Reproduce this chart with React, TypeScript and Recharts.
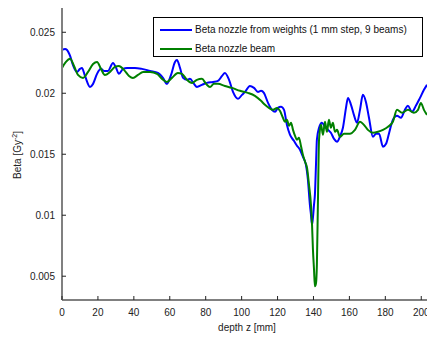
import React from "react";
import { Label, Legend, Line, LineChart, XAxis, YAxis } from "recharts";

const depthTicks = [0, 20, 40, 60, 80, 100, 120, 140, 160, 180, 200];
const betaTicks = [0.005, 0.01, 0.015, 0.02, 0.025];
const depthRange = [0, 203.2];
const betaRange = [0.00305, 0.02699];
const seriesNames = ["Beta nozzle from weights (1 mm step, 9 beams)", "Beta nozzle beam"];

// beta from weights (1 mm step, 9 beams)
const blueDepth = [
  0, 1.7, 2.8, 4.5, 6.1, 8.3, 10.0, 11.1, 12.8, 15.6,
  17.3, 19.5, 21.7, 23.4, 25.6, 28.4, 30.1, 31.7, 34.0, 36.2,
  40.6, 44.5, 49.0, 53.4, 56.2, 58.4, 60.7, 62.9, 64.0, 65.7,
  67.4, 69.6, 71.2, 73.5, 75.1, 77.9, 80.7, 84.1, 86.8, 89.1,
  90.7, 93.0, 95.2, 98.0, 100.2, 101.9, 104.6, 106.9, 109.1, 110.8,
  112.4, 114.7, 116.9, 118.6, 120.2, 121.9, 123.6, 125.2, 126.9, 129.1,
  130.8, 132.5, 134.1, 135.8, 136.9, 138.0, 138.6, 139.2, 139.7, 140.3,
  140.8, 141.4, 141.9, 143.1, 144.7, 146.4, 148.1, 149.7, 151.4, 153.1,
  154.7, 156.4, 158.1, 159.2, 160.9, 162.5, 164.2, 165.9, 167.5, 169.2,
  170.9, 173.1, 174.8, 176.5, 178.7, 180.4, 182.0, 184.2, 186.5, 188.7,
  190.9, 192.6, 194.8, 197.0, 199.3, 201.5, 203.2,
];
const blueBeta = [
  0.02355, 0.02363, 0.02355, 0.02306, 0.02232, 0.02175, 0.022, 0.02208, 0.02142, 0.02052,
  0.02077, 0.02159, 0.022, 0.02183, 0.02183, 0.02249, 0.02208, 0.02159, 0.022, 0.02208,
  0.02208, 0.022, 0.02183, 0.02167, 0.02126, 0.02077, 0.0215, 0.02257, 0.02273, 0.02208,
  0.02126, 0.0211, 0.02118, 0.02077, 0.02052, 0.02069, 0.02085, 0.02093, 0.02101, 0.02142,
  0.02167, 0.0211, 0.02011, 0.01954, 0.01987, 0.02011, 0.0206, 0.02044, 0.02011, 0.0202,
  0.02003, 0.01921, 0.01864, 0.01848, 0.0188, 0.01889, 0.01864, 0.01741, 0.0166, 0.0161,
  0.0157, 0.01537, 0.0148, 0.01414, 0.01292, 0.01087, 0.01005, 0.00923, 0.00981, 0.01087,
  0.01169, 0.01414, 0.01619, 0.01717, 0.01758, 0.01725, 0.017, 0.01676, 0.01627, 0.01602,
  0.01643, 0.01717, 0.0188, 0.01962, 0.01905, 0.01823, 0.01758, 0.01864, 0.01987, 0.01929,
  0.01799, 0.01643, 0.01668, 0.01668, 0.01562, 0.01586, 0.01668, 0.01782, 0.01815, 0.01799,
  0.01864, 0.01897, 0.01848, 0.01897, 0.01962, 0.02028, 0.02069,
];

// beta nozzle beam
const greenDepth = [
  0, 2.2, 4.5, 6.7, 8.9, 11.7, 14.5, 17.3, 19.5, 21.7,
  23.9, 26.7, 29.5, 31.7, 34.5, 37.3, 39.5, 42.3, 45.1, 49.0,
  52.9, 55.7, 58.4, 61.2, 64.5, 66.8, 69.6, 72.4, 75.1, 77.9,
  80.2, 82.4, 84.6, 86.8, 90.7, 94.6, 99.1, 103.5, 107.4, 110.8,
  113.0, 115.2, 117.5, 119.7, 121.3, 123.0, 124.1, 125.2, 126.4, 127.5,
  128.6, 129.7, 130.8, 131.9, 133.0, 134.1, 135.3, 136.4, 137.5, 138.6,
  139.2, 139.7, 140.3, 140.8, 141.4, 141.9, 142.5, 143.1, 144.2, 145.3,
  146.4, 147.5, 148.6, 149.7, 150.8, 152.0, 153.1, 154.7, 157.0, 160.3,
  163.1, 165.9, 168.1, 170.3, 173.1, 175.9, 178.7, 181.5, 184.2, 186.5,
  189.3, 192.6, 195.9, 198.2, 199.8, 201.5, 203.2,
];
const greenBeta = [
  0.02208, 0.02257, 0.02282, 0.02224, 0.0215, 0.02126, 0.02175, 0.0224, 0.02257, 0.022,
  0.0215, 0.02175, 0.02216, 0.02224, 0.02192, 0.02142, 0.02126, 0.0215, 0.02175, 0.02175,
  0.02159, 0.02118, 0.02093, 0.02126, 0.02167, 0.02159, 0.0211, 0.02085, 0.0211, 0.02118,
  0.02077, 0.02052, 0.02077, 0.02077, 0.0206, 0.02044, 0.0202, 0.02003, 0.01979, 0.01938,
  0.01905, 0.0188, 0.01864, 0.0188, 0.01856, 0.01799, 0.01766, 0.01782, 0.01733, 0.01758,
  0.017, 0.01652, 0.01619, 0.01635, 0.0157, 0.01496, 0.01439, 0.01389, 0.01251, 0.01087,
  0.00923, 0.0072, 0.00556, 0.00417, 0.00441, 0.00597, 0.01128, 0.01619, 0.01741, 0.0166,
  0.01766, 0.01684, 0.01782, 0.01717, 0.01758, 0.01684, 0.017, 0.01643, 0.01668, 0.01668,
  0.017, 0.01766, 0.01741, 0.017, 0.01676, 0.01684, 0.017, 0.01725, 0.01766, 0.01864,
  0.0184, 0.01864, 0.0184, 0.01864, 0.01921, 0.01864, 0.01823,
];

const blueData = blueDepth.map((z, i) => ({ z, beta: blueBeta[i] }));
const greenData = greenDepth.map((z, i) => ({ z, beta: greenBeta[i] }));

const font = "'Liberation Sans', Arial, sans-serif";
const textColor = "#222";

// matlab style ticks pointing into the plot
const BottomTick = (props: any) => {
  const { x, y, payload } = props;
  const axisY = y - 8;
  return (
    <g>
      <line x1={x} y1={axisY} x2={x} y2={axisY - 4} stroke="#222" />
      <text x={x} y={axisY + 16} textAnchor="middle" fontSize={10} fill={textColor} fontFamily={font}>
        {payload.value}
      </text>
    </g>
  );
};

const TopTick = (props: any) => {
  const { x, y } = props;
  return <line x1={x} y1={y} x2={x} y2={y + 4} stroke="#222" />;
};

const LeftTick = (props: any) => {
  const { x, y, payload } = props;
  const axisX = x + 7;
  return (
    <g>
      <line x1={axisX} y1={y} x2={axisX + 4} y2={y} stroke="#222" />
      <text x={x} y={y} dy="0.35em" textAnchor="end" fontSize={10} fill={textColor} fontFamily={font}>
        {String(payload.value)}
      </text>
    </g>
  );
};

const renderLegend = (props: any) => {
  // keep the plotting order (blue first) in the box
  const items = [...(props.payload || [])].sort(
    (a: any, b: any) => seriesNames.indexOf(a.value) - seriesNames.indexOf(b.value)
  );
  return (
    <div
      style={{
        boxSizing: "border-box",
        width: 270,
        height: 40,
        border: "1px solid #000",
        background: "#fff",
        paddingTop: 2,
        fontFamily: font,
        fontSize: 10,
        color: "#111",
      }}
    >
      {items.map((entry: any) => (
        <div key={entry.value} style={{ display: "flex", alignItems: "center", height: 19 }}>
          <svg width={38} height={4}>
            <line x1={6} y1={2} x2={38} y2={2} stroke={entry.color} strokeWidth={2} />
          </svg>
          <span style={{ marginLeft: 3, whiteSpace: "nowrap" }}>{entry.value}</span>
        </div>
      ))}
    </div>
  );
};

export default function App() {
  return (
    <div style={{ position: "absolute", left: 0, top: 0, background: "#fff" }}>
      <LineChart
        width={427}
        height={339}
        margin={{ top: 8, right: 0, left: 0, bottom: 0 }}
        style={{ fontFamily: font }}
      >
        <XAxis
          dataKey="z"
          type="number"
          domain={depthRange}
          ticks={depthTicks}
          interval={0}
          allowDataOverflow
          height={39}
          tickSize={0}
          tickMargin={8}
          tickLine={false}
          tick={<BottomTick />}
          axisLine={{ stroke: "#808080", strokeWidth: 2 }}
        >
          <Label
            content={() => (
              <text x={247} y={331} textAnchor="middle" fontSize={10} fill={textColor} fontFamily={font}>
                depth z [mm]
              </text>
            )}
          />
        </XAxis>
        <XAxis
          xAxisId="top"
          orientation="top"
          dataKey="z"
          type="number"
          domain={depthRange}
          ticks={depthTicks}
          interval={0}
          allowDataOverflow
          height={0}
          tickSize={0}
          tickMargin={0}
          tickLine={false}
          tick={<TopTick />}
          axisLine={{ stroke: "#666", strokeWidth: 1.5 }}
        />
        <YAxis
          type="number"
          domain={betaRange}
          ticks={betaTicks}
          interval={0}
          allowDataOverflow
          width={62}
          tickSize={0}
          tickMargin={7}
          tickLine={false}
          tick={<LeftTick />}
          axisLine={{ stroke: "#808080", strokeWidth: 2 }}
        >
          <Label
            content={() => (
              <text
                transform="translate(21,155) rotate(-90)"
                textAnchor="middle"
                fontSize={10}
                fill={textColor}
                fontFamily={font}
              >
                Beta [Gy
                <tspan dy={-4} fontSize={7}>
                  -2
                </tspan>
                <tspan dy={4}>]</tspan>
              </text>
            )}
          />
        </YAxis>
        <Legend
          layout="vertical"
          align="center"
          verticalAlign="middle"
          content={renderLegend}
          wrapperStyle={{ left: 153, top: 17, width: 270, height: 40 }}
        />
        <Line
          data={blueData}
          dataKey="beta"
          name={seriesNames[0]}
          type="monotone"
          stroke="#0000ff"
          strokeWidth={2}
          dot={false}
          isAnimationActive={false}
        />
        <Line
          data={greenData}
          dataKey="beta"
          name={seriesNames[1]}
          type="monotone"
          stroke="#008000"
          strokeWidth={2}
          dot={false}
          isAnimationActive={false}
        />
      </LineChart>
    </div>
  );
}
